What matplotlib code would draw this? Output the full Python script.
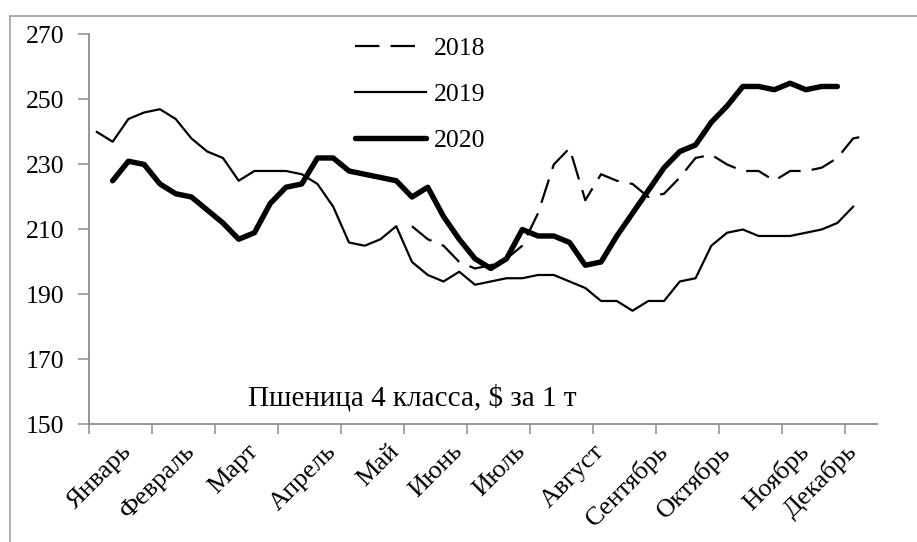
import numpy as np
import matplotlib
matplotlib.use("Agg")
import matplotlib.pyplot as plt
from matplotlib.lines import Line2D

plt.rcParams['font.family'] = ['Liberation Serif', 'DejaVu Serif']

# ---------- Data (weekly prices, $ per t) ----------
n_weeks = 50
start_2018 = 20
start_2019 = 0
start_2020 = 1

price_2018 = [211, 207, 205, 200, 198, 199, 201, 205, 215, 230,
              235, 219, 227, 225, 224, 220, 221, 226, 232, 233,
              230, 228, 228, 225, 228, 228, 229, 232, 238, 239]

price_2019 = [240, 237, 244, 246, 247, 244, 238, 234, 232, 225,
              228, 228, 228, 227, 224, 217, 206, 205, 207, 211,
              200, 196, 194, 197, 193, 194, 195, 195, 196, 196,
              194, 192, 188, 188, 185, 188, 188, 194, 195, 205,
              209, 210, 208, 208, 208, 209, 210, 212, 217]

price_2020 = [225, 231, 230, 224, 221, 220, 216, 212, 207, 209,
              218, 223, 224, 232, 232, 228, 227, 226, 225, 220,
              223, 214, 207, 201, 198, 201, 210, 208, 208, 206,
              199, 200, 208, 215, 222, 229, 234, 236, 243, 248,
              254, 254, 253, 255, 253, 254, 254]

month_labels = ["Январь", "Февраль", "Март", "Апрель", "Май", "Июнь",
                "Июль", "Август", "Сентябрь", "Октябрь", "Ноябрь", "Декабрь"]
month_weeks = [2, 6, 10, 15, 19, 23, 27, 32, 36, 40, 45, 48]

y_ticks = [150, 170, 190, 210, 230, 250, 270]
caption = "Пшеница 4 класса, $ за 1 т"

# ---------- Figure ----------
fig = plt.figure(figsize=(9.17, 5.42), dpi=100)
ax = fig.add_axes([0.0971, 0.2168, 0.859, 0.7196])

fs = 18.5
grey = "#8c8c8c"

x18 = np.arange(start_2018, start_2018 + len(price_2018))
x19 = np.arange(start_2019, start_2019 + len(price_2019))
x20 = np.arange(start_2020, start_2020 + len(price_2020))

ax.plot(x18, price_2018, color="black", lw=1.6, dashes=(11, 5),
        dash_capstyle="butt", label="2018")
ax.plot(x19, price_2019, color="black", lw=1.6,
        solid_joinstyle="round", label="2019")
ax.plot(x20, price_2020, color="black", lw=3.9,
        solid_joinstyle="round", solid_capstyle="round", label="2020")

ax.set_xlim(-0.5, n_weeks - 0.5)
ax.set_ylim(150, 270)
ax.set_yticks(y_ticks)
ax.set_yticklabels([str(v) for v in y_ticks], fontsize=fs)

# tick marks every 4 weeks, month names at their weeks
ax.set_xticks(np.arange(-0.5, n_weeks - 1, 4))
ax.set_xticklabels([])
ax.set_xticks(month_weeks, minor=True)
ax.set_xticklabels(month_labels, minor=True, fontsize=19, rotation=45,
                   ha="right", va="center", rotation_mode="anchor")
ax.tick_params(axis="x", which="minor", length=0, pad=17)
ax.tick_params(axis="x", which="major", length=7, width=1.1, color=grey,
               direction="out")
ax.tick_params(axis="y", length=8, width=1.1, color=grey, pad=10)

for side in ["top", "right"]:
    ax.spines[side].set_visible(False)
for side in ["left", "bottom"]:
    ax.spines[side].set_color(grey)
    ax.spines[side].set_linewidth(1.3)

ax.legend(loc="upper left", bbox_to_anchor=(0.338, 0.993), frameon=False,
          fontsize=fs, handlelength=2.75, handletextpad=0.3,
          labelspacing=0.9, borderpad=0, borderaxespad=0)

ax.text(0.41, 0.068, caption, transform=ax.transAxes, fontsize=21,
        ha="center", va="center")

# outer chart border (cropped)
fig.add_artist(Line2D([10 / 917, 10 / 917], [0, 1 - 15.6 / 542],
                      transform=fig.transFigure, color="#a0a0a0", lw=1.2))
fig.add_artist(Line2D([10 / 917, 1], [1 - 15.6 / 542, 1 - 15.6 / 542],
                      transform=fig.transFigure, color="#a0a0a0", lw=1.2))

fig.savefig("out.png", dpi=100)
